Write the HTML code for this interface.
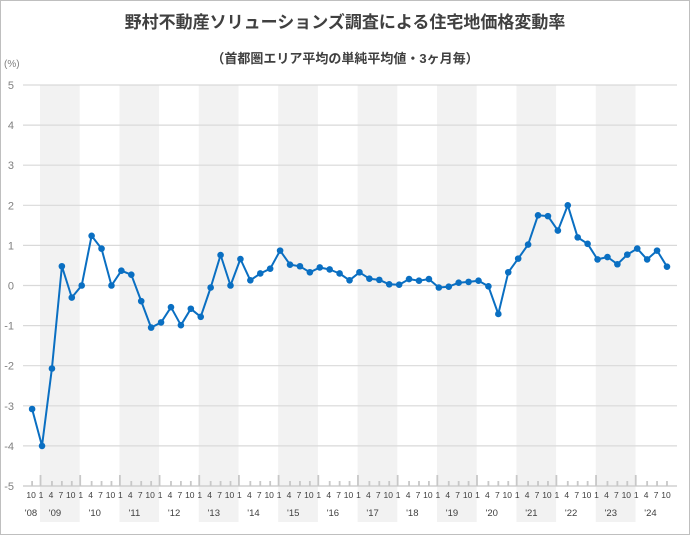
<!DOCTYPE html>
<html><head><meta charset="utf-8">
<style>
html,body{margin:0;padding:0;background:#fff;}
svg{display:block;font-family:"Liberation Sans","Noto Sans CJK JP",sans-serif;}
</style></head>
<body>
<svg id="chart" width="690" height="535" viewBox="0 0 690 535">
<rect x="0.5" y="0.5" width="689" height="534" fill="#fff" stroke="#bfbfbf"/>
<text x="345" y="28" text-anchor="middle" font-size="17" font-weight="bold" fill="#404040">野村不動産ソリューションズ調査による住宅地価格変動率</text>
<text x="345" y="63" text-anchor="middle" font-size="13" font-weight="bold" fill="#404040">（首都圏エリア平均の単純平均値・3ヶ月毎）</text>
<text x="4" y="67" font-size="10" fill="#808080">(%)</text>
<g id="bands"></g><g id="grid"></g><g id="axis"></g><g id="series"></g>
</svg>
<script>
const years = [2009,2010,2011,2012,2013,2014,2015,2016,2017,2018,2019,2020,2021,2022,2023,2024];
const months = [1,4,7,10];
const yTicks = [5,4,3,2,1,0,-1,-2,-3,-4,-5];
const categories = ["2008-10"];
years.forEach(y=>months.forEach(m=>categories.push(y+"-"+m)));
const values = [-3.08,
 -4.0,-2.07,0.48,-0.3,
 0.0,1.24,0.92,0.0,
 0.37,0.27,-0.39,-1.05,
 -0.92,-0.54,-0.99,-0.58,
 -0.78,-0.05,0.76,0.0,
 0.66,0.13,0.3,0.42,
 0.87,0.52,0.48,0.33,
 0.45,0.4,0.3,0.13,
 0.33,0.17,0.14,0.03,
 0.02,0.16,0.12,0.16,
 -0.05,-0.03,0.07,0.09,
 0.12,-0.02,-0.71,0.33,
 0.67,1.02,1.75,1.73,
 1.37,2.0,1.2,1.04,
 0.65,0.71,0.53,0.77,
 0.92,0.65,0.87,0.47];
const NS="http://www.w3.org/2000/svg";
const X0=23, X1=677, Y5=85, Yn5=486;
const yS=v=>Y5+(5-v)*(Yn5-Y5)/10;
const xS=i=>32.1+i*9.92;
const yearStart=k=>40+k*39.7;
function mk(tag,parent,attrs){const e=document.createElementNS(NS,tag);for(const k in attrs)e.setAttribute(k,attrs[k]);document.getElementById(parent).appendChild(e);return e;}
years.forEach((y,k)=>{
  if(k%2===0){
    const r=mk('rect','bands',{x:yearStart(k),y:Y5,width:39.7,height:Yn5-Y5+36,fill:'#f2f2f2'});
    
    
  }
});
yTicks.forEach(v=>{
  if(v>-5){
    const l=mk('line','grid',{x1:X0,x2:X1,y1:yS(v),y2:yS(v),stroke:'#d9d9d9','stroke-width':1.2});
    
    
  }
  const t=mk('text','axis',{x:14,y:yS(v)+4,'text-anchor':'end','font-size':11,fill:'#808080'});
  t.textContent=v;
  
  
});
const ax=mk('line','axis',{x1:X0,x2:X1,y1:Yn5,y2:Yn5,stroke:'#d0d0d0','stroke-width':1.5});


categories.forEach((c,i)=>{
  const m=c.split('-')[1];
  const x=xS(i);
  const tx=(m==='1')?x-1.5:x;
  const tk=mk('line','axis',{x1:tx,x2:tx,y1:Yn5,y2:m==='1'?Yn5-11:Yn5-5,stroke:'#c8c8c8','stroke-width':1.8});
  
  
  const t=mk('text','axis',{x:x-1,y:498,'text-anchor':'middle','font-size':8.5,fill:'#404040'});
  t.textContent=m;
  
  
});
const y08=mk('text','axis',{x:31,y:516,'text-anchor':'middle','font-size':9.5,fill:'#404040'});
y08.textContent="'08";


years.forEach((y,k)=>{
  const t=mk('text','axis',{x:yearStart(k)+15,y:516,'text-anchor':'middle','font-size':9.5,fill:'#404040'});
  t.textContent="'"+String(y).slice(2);
  
  
});
const pts=values.map((v,i)=>xS(i).toFixed(1)+','+yS(v).toFixed(1)).join(' ');
const pl=mk('polyline','series',{points:pts,fill:'none',stroke:'#0a6fc2','stroke-width':2,'stroke-linejoin':'round'});


values.forEach((v,i)=>{
  const c=mk('circle','series',{cx:xS(i),cy:yS(v),r:3.3,fill:'#0a6fc2'});
  
  
});
</script>
</body></html>
